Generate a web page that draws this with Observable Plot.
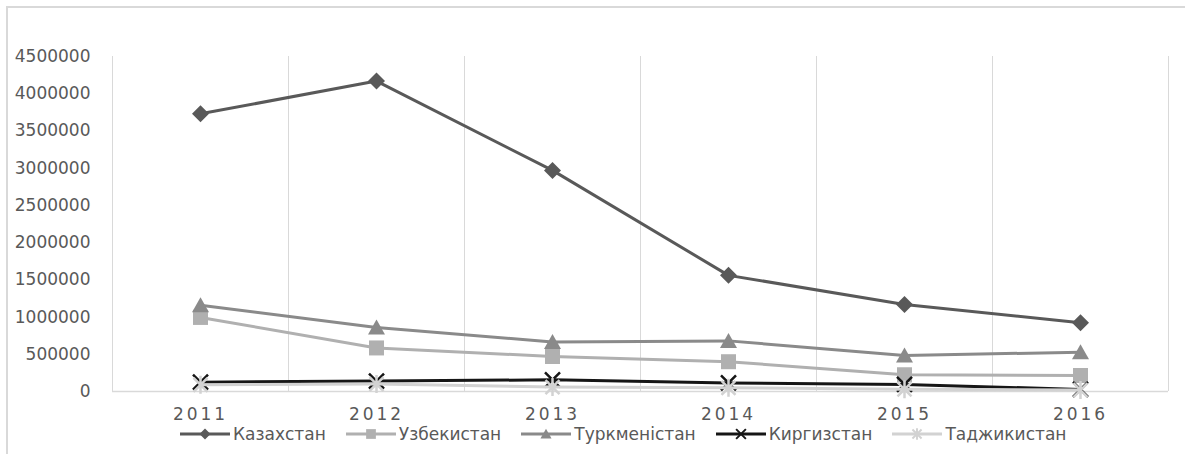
<!DOCTYPE html>
<html><head><meta charset="utf-8">
<script src="https://cdn.jsdelivr.net/npm/d3@7"></script>
<script src="https://cdn.jsdelivr.net/npm/@observablehq/plot@0.6"></script>
<style>
body{margin:0;background:#fff;font-family:"DejaVu Sans",sans-serif;}
#wrap{position:relative;width:1185px;height:454px;overflow:hidden;background:#fff}
#frame{position:absolute;left:6px;top:6px;width:1300px;height:600px;border:2px solid #d9d9d9;box-sizing:border-box;pointer-events:none}
#chart{position:absolute;left:0;top:0}
#legend{position:absolute;left:180px;top:423px;height:22px;display:flex;align-items:center;font-size:17px;color:#595959;white-space:nowrap}
.item{display:flex;align-items:center;margin-right:20px}
.item svg{margin-right:3px}
</style></head><body>
<div id="wrap"><div id="frame"></div><div id="chart"></div><div id="legend"></div></div>
<script>
const years = [2011, 2012, 2013, 2014, 2015, 2016];
const yTicks = [0, 500000, 1000000, 1500000, 2000000, 2500000, 3000000, 3500000, 4000000, 4500000];
const seriesNames = ["Казахстан", "Узбекистан", "Туркменістан", "Киргизстан", "Таджикистан"];
const kazakhstan   = [3730000, 4170000, 2970000, 1560000, 1170000, 925000];
const uzbekistan   = [ 995000,  585000,  470000,  400000,  225000, 215000];
const turkmenistan = [1160000,  860000,  665000,  680000,  484000, 528000];
const kyrgyzstan   = [ 125000,  140000,  157000,  115000,   95000,  28000];
const tajikistan   = [  90000,  100000,   60000,   50000,   30000,  20000];

const seriesValues = [kazakhstan, uzbekistan, turkmenistan, kyrgyzstan, tajikistan];
const colors = ["#595959", "#b0b0b0", "#8a8a8a", "#161616", "#d2d2d2"];

function mk(fn){ return {draw(ctx, size){ fn(ctx); }}; }
const symDiamond = mk(c => {const r=8.5; c.moveTo(0,-r); c.lineTo(r,0); c.lineTo(0,r); c.lineTo(-r,0); c.closePath();});
const symSquare = mk(c => {const r=7.5; c.moveTo(-r,-r); c.lineTo(r,-r); c.lineTo(r,r); c.lineTo(-r,r); c.closePath();});
const symTriangle = mk(c => {c.moveTo(0,-8); c.lineTo(8.5,7); c.lineTo(-8.5,7); c.closePath();});
const symTimes = mk(c => {const r=7.5; c.moveTo(-r,-r); c.lineTo(r,r); c.moveTo(-r,r); c.lineTo(r,-r);});
const symAster = mk(c => {const r=7; c.moveTo(-r,-r); c.lineTo(r,r); c.moveTo(-r,r); c.lineTo(r,-r); c.moveTo(0,-9); c.lineTo(0,9);});
const symbols = [symDiamond, symSquare, symTriangle, symTimes, symAster];
const filled = [true, true, true, false, false];

const table = [];
seriesNames.forEach((name, i) => years.forEach((yr, j) => table.push({series: name, idx: i, year: yr, value: seriesValues[i][j]})));

const bounds = years.map(y => y - 0.5).concat([years[years.length-1] + 0.5]);

const marks = [
  Plot.ruleX(bounds, {x: d => d, y1: 0, y2: yTicks[yTicks.length-1], stroke: "#d9d9d9", strokeWidth: 1}),
  Plot.ruleY([0], {stroke: "#d9d9d9", strokeWidth: 1.5}),
  Plot.axisY({ticks: yTicks, tickFormat: d => String(d), tickSize: 0, tickPadding: 22, fontSize: 17, label: null}),
  Plot.axisX({ticks: years, tickFormat: d => String(d), tickSize: 0, tickPadding: 16, fontSize: 17, label: null})
];
seriesNames.forEach((name, i) => {
  const data = table.filter(d => d.idx === i);
  marks.push(Plot.line(data, {x: "year", y: "value", stroke: colors[i], strokeWidth: 3}));
  marks.push(Plot.dot(data, {x: "year", y: "value", symbol: symbols[i], r: 5,
    fill: filled[i] ? colors[i] : "none", stroke: colors[i], strokeWidth: filled[i] ? 0 : 2.5}));
});

const chart = Plot.plot({
  width: 1185, height: 430,
  marginLeft: 112, marginRight: 17, marginTop: 56, marginBottom: 39,
  x: {type: "linear", domain: [bounds[0], bounds[bounds.length-1]]},
  y: {domain: [0, yTicks[yTicks.length-1]]},
  style: {fontFamily: "DejaVu Sans, sans-serif", color: "#595959", background: "transparent", overflow: "visible"},
  marks
});
chart.querySelectorAll('g[aria-label="x-axis tick label"] text').forEach(t => t.setAttribute("letter-spacing", "3"));
document.getElementById("chart").appendChild(chart);

const legend = document.getElementById("legend");
seriesNames.forEach((name, i) => {
  const item = document.createElement("div");
  item.className = "item";
  const svg = d3.create("svg").attr("width", 50).attr("height", 20);
  svg.append("line").attr("x1", 0).attr("x2", 50).attr("y1", 10).attr("y2", 10).attr("stroke", colors[i]).attr("stroke-width", 3);
  svg.append("path").attr("d", d3.symbol(symbols[i], 64)()).attr("transform", "translate(25,10) scale(0.65)")
    .attr("fill", filled[i] ? colors[i] : "none").attr("stroke", colors[i]).attr("stroke-width", filled[i] ? 0 : 3);
  item.appendChild(svg.node());
  const span = document.createElement("span");
  span.textContent = name;
  item.appendChild(span);
  legend.appendChild(item);
});
</script>
</body></html>
